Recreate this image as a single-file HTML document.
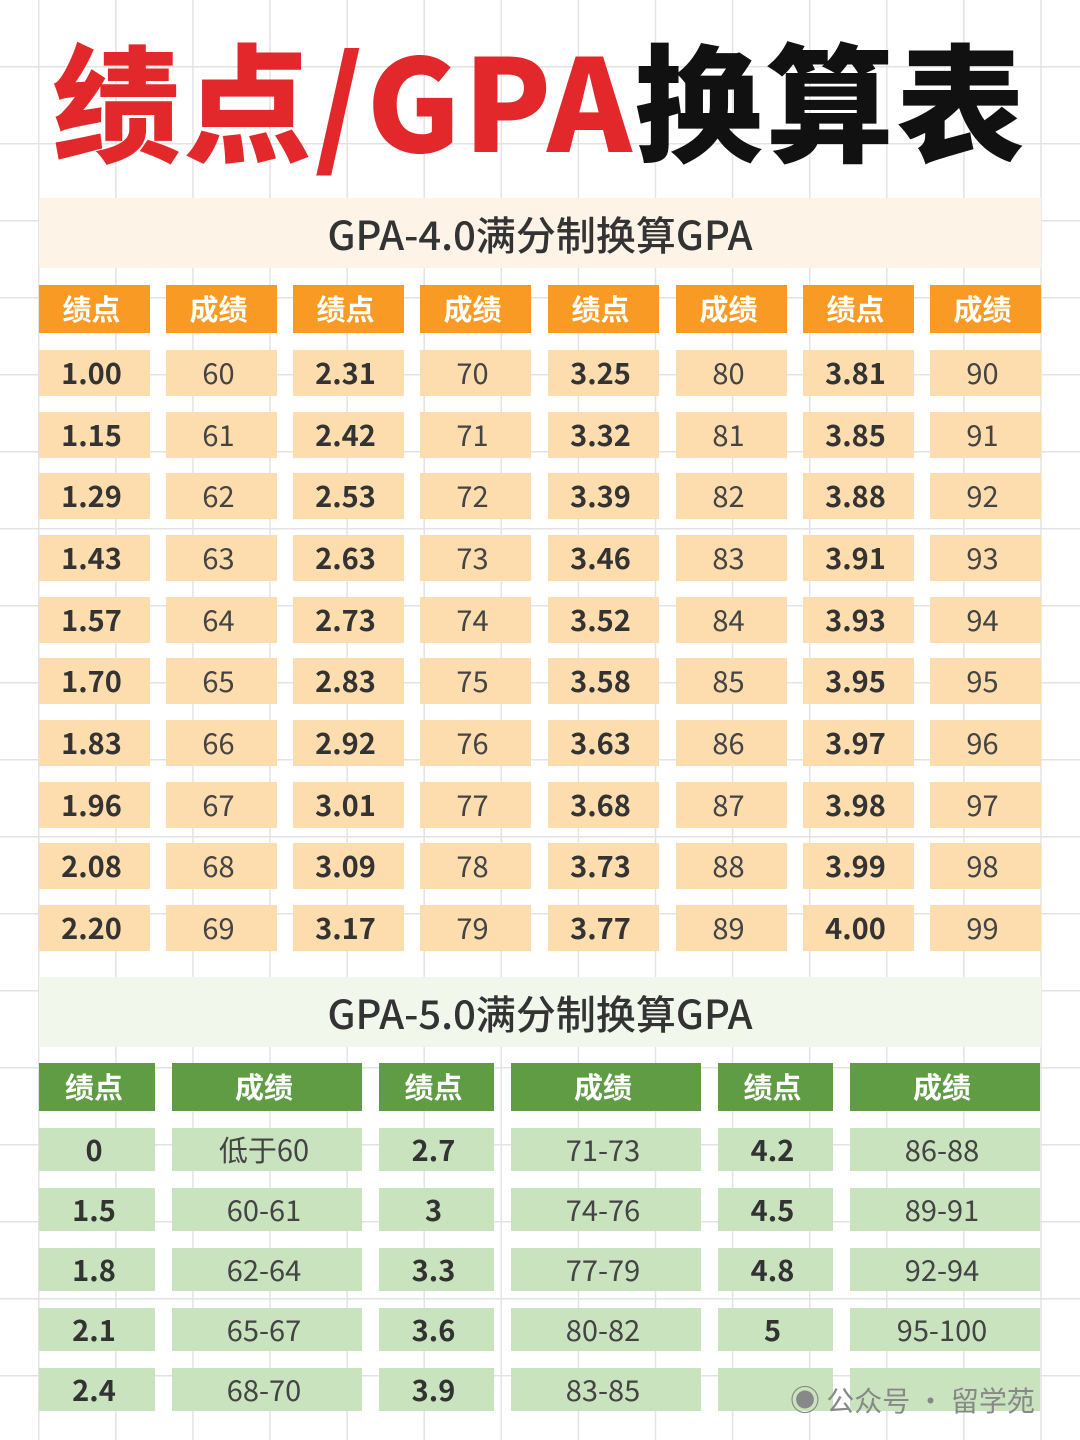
<!DOCTYPE html>
<html><head><meta charset="utf-8"><style>
*{margin:0;padding:0;box-sizing:border-box}
body{width:1080px;height:1440px;position:relative;overflow:hidden;background-color:#fff;
background-image:linear-gradient(90deg,#e3e3e3 1.5px,transparent 1.5px),linear-gradient(#e3e3e3 1.5px,transparent 1.5px);
background-size:77.1px 77px;background-position:38px 66px;
font-family:"Liberation Sans","Noto Sans CJK SC",sans-serif}
.t{position:absolute;left:0;width:1080px;top:12px;text-align:center;font-family:"Noto Sans CJK SC",sans-serif;font-weight:900;font-size:128px;line-height:170px;letter-spacing:3px;white-space:nowrap}
.r{color:#e3282b}.k{color:#111}
.ban{position:absolute;left:39px;width:1002px;height:70px;text-align:center;font-family:"Noto Sans CJK SC",sans-serif;font-size:40px;line-height:70px;color:#333;font-weight:500}
.c{position:absolute;text-align:center;font-family:"Noto Sans CJK SC",sans-serif;font-size:29px;color:#444;text-indent:-6px}
.h{color:#fff;font-weight:700;font-size:29px}
.b{font-weight:700;color:#333}
.o .c{width:111px;height:46px;line-height:44px;background:#fddcad}
.o .h{background:#f99a24;height:48px;line-height:46px}
.g .c{height:43px;line-height:42px;background:#c8e3bd}
.g .h{background:#5f9c44;height:48px;line-height:46px}
.wm{position:absolute;left:790px;top:1376px;font-family:"Noto Sans CJK SC",sans-serif;font-size:28px;color:#888;line-height:44px}
</style></head><body>
<div class="t"><span class="r">绩点/GPA</span><span class="k">换算表</span></div>
<div class="ban" style="top:198px;background:#fdf3e6">GPA-4.0满分制换算GPA</div>
<div class="ban" style="top:977px;background:#f1f7eb">GPA-5.0满分制换算GPA</div>
<div class="o">
<div class="c h" style="left:39px;top:285px">绩点</div><div class="c h" style="left:166px;top:285px">成绩</div><div class="c h" style="left:293px;top:285px">绩点</div><div class="c h" style="left:420px;top:285px">成绩</div><div class="c h" style="left:548px;top:285px">绩点</div><div class="c h" style="left:676px;top:285px">成绩</div><div class="c h" style="left:803px;top:285px">绩点</div><div class="c h" style="left:930px;top:285px">成绩</div>

<div class="c b" style="left:39px;top:350px">1.00</div><div class="c" style="left:166px;top:350px">60</div><div class="c b" style="left:293px;top:350px">2.31</div><div class="c" style="left:420px;top:350px">70</div><div class="c b" style="left:548px;top:350px">3.25</div><div class="c" style="left:676px;top:350px">80</div><div class="c b" style="left:803px;top:350px">3.81</div><div class="c" style="left:930px;top:350px">90</div>
<div class="c b" style="left:39px;top:412px">1.15</div><div class="c" style="left:166px;top:412px">61</div><div class="c b" style="left:293px;top:412px">2.42</div><div class="c" style="left:420px;top:412px">71</div><div class="c b" style="left:548px;top:412px">3.32</div><div class="c" style="left:676px;top:412px">81</div><div class="c b" style="left:803px;top:412px">3.85</div><div class="c" style="left:930px;top:412px">91</div>
<div class="c b" style="left:39px;top:473px">1.29</div><div class="c" style="left:166px;top:473px">62</div><div class="c b" style="left:293px;top:473px">2.53</div><div class="c" style="left:420px;top:473px">72</div><div class="c b" style="left:548px;top:473px">3.39</div><div class="c" style="left:676px;top:473px">82</div><div class="c b" style="left:803px;top:473px">3.88</div><div class="c" style="left:930px;top:473px">92</div>
<div class="c b" style="left:39px;top:535px">1.43</div><div class="c" style="left:166px;top:535px">63</div><div class="c b" style="left:293px;top:535px">2.63</div><div class="c" style="left:420px;top:535px">73</div><div class="c b" style="left:548px;top:535px">3.46</div><div class="c" style="left:676px;top:535px">83</div><div class="c b" style="left:803px;top:535px">3.91</div><div class="c" style="left:930px;top:535px">93</div>
<div class="c b" style="left:39px;top:597px">1.57</div><div class="c" style="left:166px;top:597px">64</div><div class="c b" style="left:293px;top:597px">2.73</div><div class="c" style="left:420px;top:597px">74</div><div class="c b" style="left:548px;top:597px">3.52</div><div class="c" style="left:676px;top:597px">84</div><div class="c b" style="left:803px;top:597px">3.93</div><div class="c" style="left:930px;top:597px">94</div>
<div class="c b" style="left:39px;top:658px">1.70</div><div class="c" style="left:166px;top:658px">65</div><div class="c b" style="left:293px;top:658px">2.83</div><div class="c" style="left:420px;top:658px">75</div><div class="c b" style="left:548px;top:658px">3.58</div><div class="c" style="left:676px;top:658px">85</div><div class="c b" style="left:803px;top:658px">3.95</div><div class="c" style="left:930px;top:658px">95</div>
<div class="c b" style="left:39px;top:720px">1.83</div><div class="c" style="left:166px;top:720px">66</div><div class="c b" style="left:293px;top:720px">2.92</div><div class="c" style="left:420px;top:720px">76</div><div class="c b" style="left:548px;top:720px">3.63</div><div class="c" style="left:676px;top:720px">86</div><div class="c b" style="left:803px;top:720px">3.97</div><div class="c" style="left:930px;top:720px">96</div>
<div class="c b" style="left:39px;top:782px">1.96</div><div class="c" style="left:166px;top:782px">67</div><div class="c b" style="left:293px;top:782px">3.01</div><div class="c" style="left:420px;top:782px">77</div><div class="c b" style="left:548px;top:782px">3.68</div><div class="c" style="left:676px;top:782px">87</div><div class="c b" style="left:803px;top:782px">3.98</div><div class="c" style="left:930px;top:782px">97</div>
<div class="c b" style="left:39px;top:843px">2.08</div><div class="c" style="left:166px;top:843px">68</div><div class="c b" style="left:293px;top:843px">3.09</div><div class="c" style="left:420px;top:843px">78</div><div class="c b" style="left:548px;top:843px">3.73</div><div class="c" style="left:676px;top:843px">88</div><div class="c b" style="left:803px;top:843px">3.99</div><div class="c" style="left:930px;top:843px">98</div>
<div class="c b" style="left:39px;top:905px">2.20</div><div class="c" style="left:166px;top:905px">69</div><div class="c b" style="left:293px;top:905px">3.17</div><div class="c" style="left:420px;top:905px">79</div><div class="c b" style="left:548px;top:905px">3.77</div><div class="c" style="left:676px;top:905px">89</div><div class="c b" style="left:803px;top:905px">4.00</div><div class="c" style="left:930px;top:905px">99</div>
</div>
<div class="g">
<div class="c h" style="left:39px;width:116px;top:1063px">绩点</div><div class="c h" style="left:172px;width:190px;top:1063px">成绩</div><div class="c h" style="left:379px;width:115px;top:1063px">绩点</div><div class="c h" style="left:511px;width:190px;top:1063px">成绩</div><div class="c h" style="left:718px;width:115px;top:1063px">绩点</div><div class="c h" style="left:850px;width:190px;top:1063px">成绩</div>

<div class="c b" style="left:39px;width:116px;top:1128px">0</div><div class="c" style="left:172px;width:190px;top:1128px">低于60</div><div class="c b" style="left:379px;width:115px;top:1128px">2.7</div><div class="c" style="left:511px;width:190px;top:1128px">71-73</div><div class="c b" style="left:718px;width:115px;top:1128px">4.2</div><div class="c" style="left:850px;width:190px;top:1128px">86-88</div>
<div class="c b" style="left:39px;width:116px;top:1188px">1.5</div><div class="c" style="left:172px;width:190px;top:1188px">60-61</div><div class="c b" style="left:379px;width:115px;top:1188px">3</div><div class="c" style="left:511px;width:190px;top:1188px">74-76</div><div class="c b" style="left:718px;width:115px;top:1188px">4.5</div><div class="c" style="left:850px;width:190px;top:1188px">89-91</div>
<div class="c b" style="left:39px;width:116px;top:1248px">1.8</div><div class="c" style="left:172px;width:190px;top:1248px">62-64</div><div class="c b" style="left:379px;width:115px;top:1248px">3.3</div><div class="c" style="left:511px;width:190px;top:1248px">77-79</div><div class="c b" style="left:718px;width:115px;top:1248px">4.8</div><div class="c" style="left:850px;width:190px;top:1248px">92-94</div>
<div class="c b" style="left:39px;width:116px;top:1308px">2.1</div><div class="c" style="left:172px;width:190px;top:1308px">65-67</div><div class="c b" style="left:379px;width:115px;top:1308px">3.6</div><div class="c" style="left:511px;width:190px;top:1308px">80-82</div><div class="c b" style="left:718px;width:115px;top:1308px">5</div><div class="c" style="left:850px;width:190px;top:1308px">95-100</div>
<div class="c b" style="left:39px;width:116px;top:1368px">2.4</div><div class="c" style="left:172px;width:190px;top:1368px">68-70</div><div class="c b" style="left:379px;width:115px;top:1368px">3.9</div><div class="c" style="left:511px;width:190px;top:1368px">83-85</div><div class="c" style="left:718px;width:115px;top:1368px"></div><div class="c" style="left:850px;width:190px;top:1368px"></div>
</div>
<div class="wm"><span style="font-size:30px">◉</span> 公众号 · 留学苑</div>
</body></html>
